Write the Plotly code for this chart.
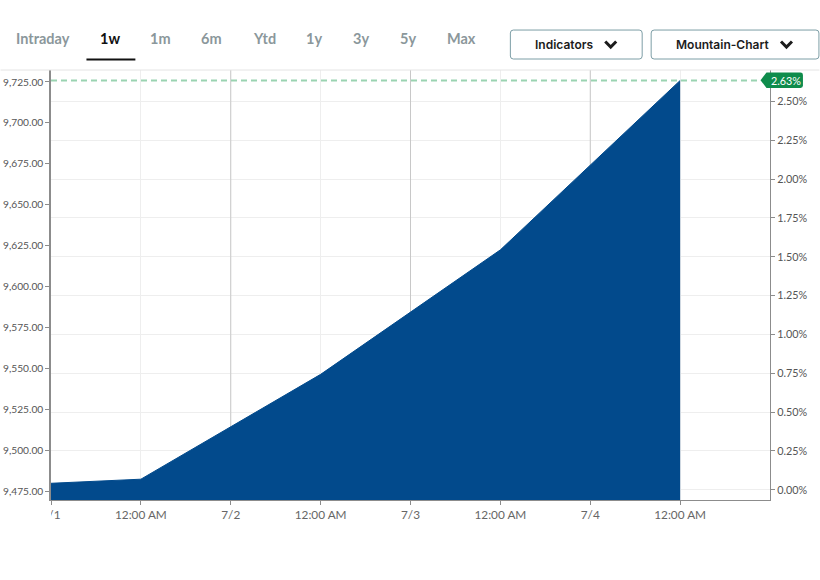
import plotly.graph_objects as go

FIG_W, FIG_H = 820, 580
LEFT, RIGHT, TOP, BOTTOM = 50.5, 770.5, 69.5, 500.0
PRICE_RANGE = [9469.8, 9732.3]

# chart data
point_pos = [0, 1, 3, 5, 7]
point_price = [9480.0, 9482.5, 9546.5, 9622.5, 9725.9]
last_price = 9725.9
last_pct_label = '2.63%'

tick_pos = [0, 1, 2, 3, 4, 5, 6, 7]
tick_text = ['7/1', '12:00 AM', '7/2', '12:00 AM', '7/3', '12:00 AM', '7/4', '12:00 AM']
date_pos = [2, 4, 6]

price_ticks = [9475, 9500, 9525, 9550, 9575, 9600, 9625, 9650, 9675, 9700, 9725]
pct_ticks = [0, 0.25, 0.5, 0.75, 1, 1.25, 1.5, 1.75, 2, 2.25, 2.5]
pct_labels = ['0.00%', '0.25%', '0.50%', '0.75%', '1.00%', '1.25%', '1.50%', '1.75%', '2.00%', '2.25%', '2.50%']

tabs = ['Intraday', '1w', '1m', '6m', 'Ytd', '1y', '3y', '5y', 'Max']
tab_centers = [42.5, 110, 160, 211, 264.5, 314, 361, 408, 462]


def px(x):  # page pixel -> paper x
    return (x - LEFT) / (RIGHT - LEFT)


def py(y):  # page pixel -> paper y
    return (BOTTOM - y) / (BOTTOM - TOP)


def label(fig, text, x, y, size, color, weight='normal', family=None):
    fig.add_annotation(text=text, x=px(x), y=py(y), xref='paper', yref='paper',
                       showarrow=False, xanchor='center', yanchor='middle',
                       font=dict(size=size, color=color, weight=weight, family=family))


def button(fig, x0, x1, y0, y1, text, text_x, chev_x):
    r = 3
    path = (f'M {px(x0 + r)} {py(y0)} L {px(x1 - r)} {py(y0)} Q {px(x1)} {py(y0)} {px(x1)} {py(y0 + r)} '
            f'L {px(x1)} {py(y1 - r)} Q {px(x1)} {py(y1)} {px(x1 - r)} {py(y1)} '
            f'L {px(x0 + r)} {py(y1)} Q {px(x0)} {py(y1)} {px(x0)} {py(y1 - r)} '
            f'L {px(x0)} {py(y0 + r)} Q {px(x0)} {py(y0)} {px(x0 + r)} {py(y0)} Z')
    fig.add_shape(type='path', path=path, xref='paper', yref='paper',
                  line=dict(color='#7d9ea6', width=1), fillcolor='white')
    label(fig, text, text_x, 43.5, 12, '#1c1c1c', 600, 'Inter, sans-serif')
    chev = f'M {px(chev_x)} {py(41)} L {px(chev_x + 5.5)} {py(46.5)} L {px(chev_x + 11)} {py(41)}'
    fig.add_shape(type='path', path=chev, xref='paper', yref='paper',
                  line=dict(color='#1c1c1c', width=3))


fig = go.Figure()

# darker day lines, drawn first so the area hides them
for pos in date_pos:
    fig.add_trace(go.Scatter(x=[pos, pos], y=PRICE_RANGE, mode='lines',
                             line=dict(color='#c8c8c8', width=1),
                             hoverinfo='skip', showlegend=False))

fig.add_trace(go.Scatter(x=point_pos, y=point_price, mode='lines', fill='tozeroy',
                         fillcolor='#024a8c', line=dict(color='#024a8c', width=1),
                         hoverinfo='skip', showlegend=False))
fig.add_trace(go.Scatter(x=[0, 7.88], y=[last_price, last_price], mode='lines',
                         line=dict(color='#9ad3b1', width=2, dash='6px 4px'),
                         hoverinfo='skip', showlegend=False))
# invisible, only there to switch the right axis on
fig.add_trace(go.Scatter(x=[0], y=[0], yaxis='y2', mode='lines', hoverinfo='skip',
                         showlegend=False, line=dict(width=0)))

fig.update_layout(
    width=FIG_W, height=FIG_H,
    margin=dict(l=LEFT, r=FIG_W - RIGHT, t=TOP, b=FIG_H - BOTTOM, pad=0, autoexpand=False),
    paper_bgcolor='white', plot_bgcolor='white',
    font=dict(family='Lato, sans-serif', size=12, color='#555555'),
    xaxis=dict(range=[0, 8], tickvals=tick_pos, ticktext=tick_text, tickangle=0,
               showgrid=True, gridcolor='#eeeeee', gridwidth=1, zeroline=False,
               showline=True, linecolor='#8c8c8c', linewidth=1,
               ticks='outside', ticklen=4, tickcolor='#8c8c8c',
               tickfont=dict(size=11.8, color='#666666')),
    yaxis=dict(range=PRICE_RANGE, tickvals=price_ticks, tickformat=',.2f',
               showgrid=False, zeroline=False,
               showline=True, linecolor='#8c8c8c', linewidth=1.5,
               ticks='outside', ticklen=4, tickcolor='#8c8c8c',
               tickfont=dict(size=10.2, color='#555555')),
    yaxis2=dict(range=[-0.066, 2.702], tickvals=pct_ticks, ticktext=pct_labels,
                overlaying='y', side='right', layer='below traces',
                showgrid=True, gridcolor='#eeeeee', gridwidth=1, zeroline=False,
                showline=True, linecolor='#8c8c8c', linewidth=1,
                ticks='outside', ticklen=4, tickcolor='#8c8c8c',
                tickfont=dict(size=10.8, color='#555555')),
)

# top rule runs across the whole page
fig.add_shape(type='line', xref='paper', yref='paper', x0=px(0), x1=px(FIG_W), y0=py(TOP), y1=py(TOP),
              line=dict(color='#e4e4e4', width=1))

# the first date label is cut off by the chart edge
fig.add_shape(type='rect', xref='paper', yref='paper', x0=px(30), x1=px(50.5), y0=py(503), y1=py(525),
              fillcolor='white', line=dict(width=0), layer='above')

# range tabs
for name, center in zip(tabs, tab_centers):
    active = name == '1w'
    label(fig, name, center, 38, 14.5, '#111111' if active else '#8b979b', 'bold')
fig.add_shape(type='line', xref='paper', yref='paper', x0=px(86), x1=px(135), y0=py(59), y1=py(59),
              line=dict(color='#111111', width=2))

button(fig, 510.5, 642.5, 29.5, 58.5, 'Indicators', 564, 605.5)
button(fig, 651.5, 819.5, 29.5, 58.5, 'Mountain-Chart', 722.5, 781.5)

# last value tag
tag = (f'M {px(761)} {py(79.7)} L {px(767)} {py(72)} L {px(801)} {py(72)} Q {px(803.5)} {py(72)} {px(803.5)} {py(74.5)} '
       f'L {px(803.5)} {py(85)} Q {px(803.5)} {py(87.5)} {px(801)} {py(87.5)} L {px(767)} {py(87.5)} Z')
fig.add_shape(type='path', path=tag, xref='paper', yref='paper', fillcolor='#0f8c4c', line=dict(width=0))
label(fig, last_pct_label, 787, 79.7, 10.8, 'white')

fig.write_html('out.html', post_script="document.body.style.margin='0';", config={'displayModeBar': False})
